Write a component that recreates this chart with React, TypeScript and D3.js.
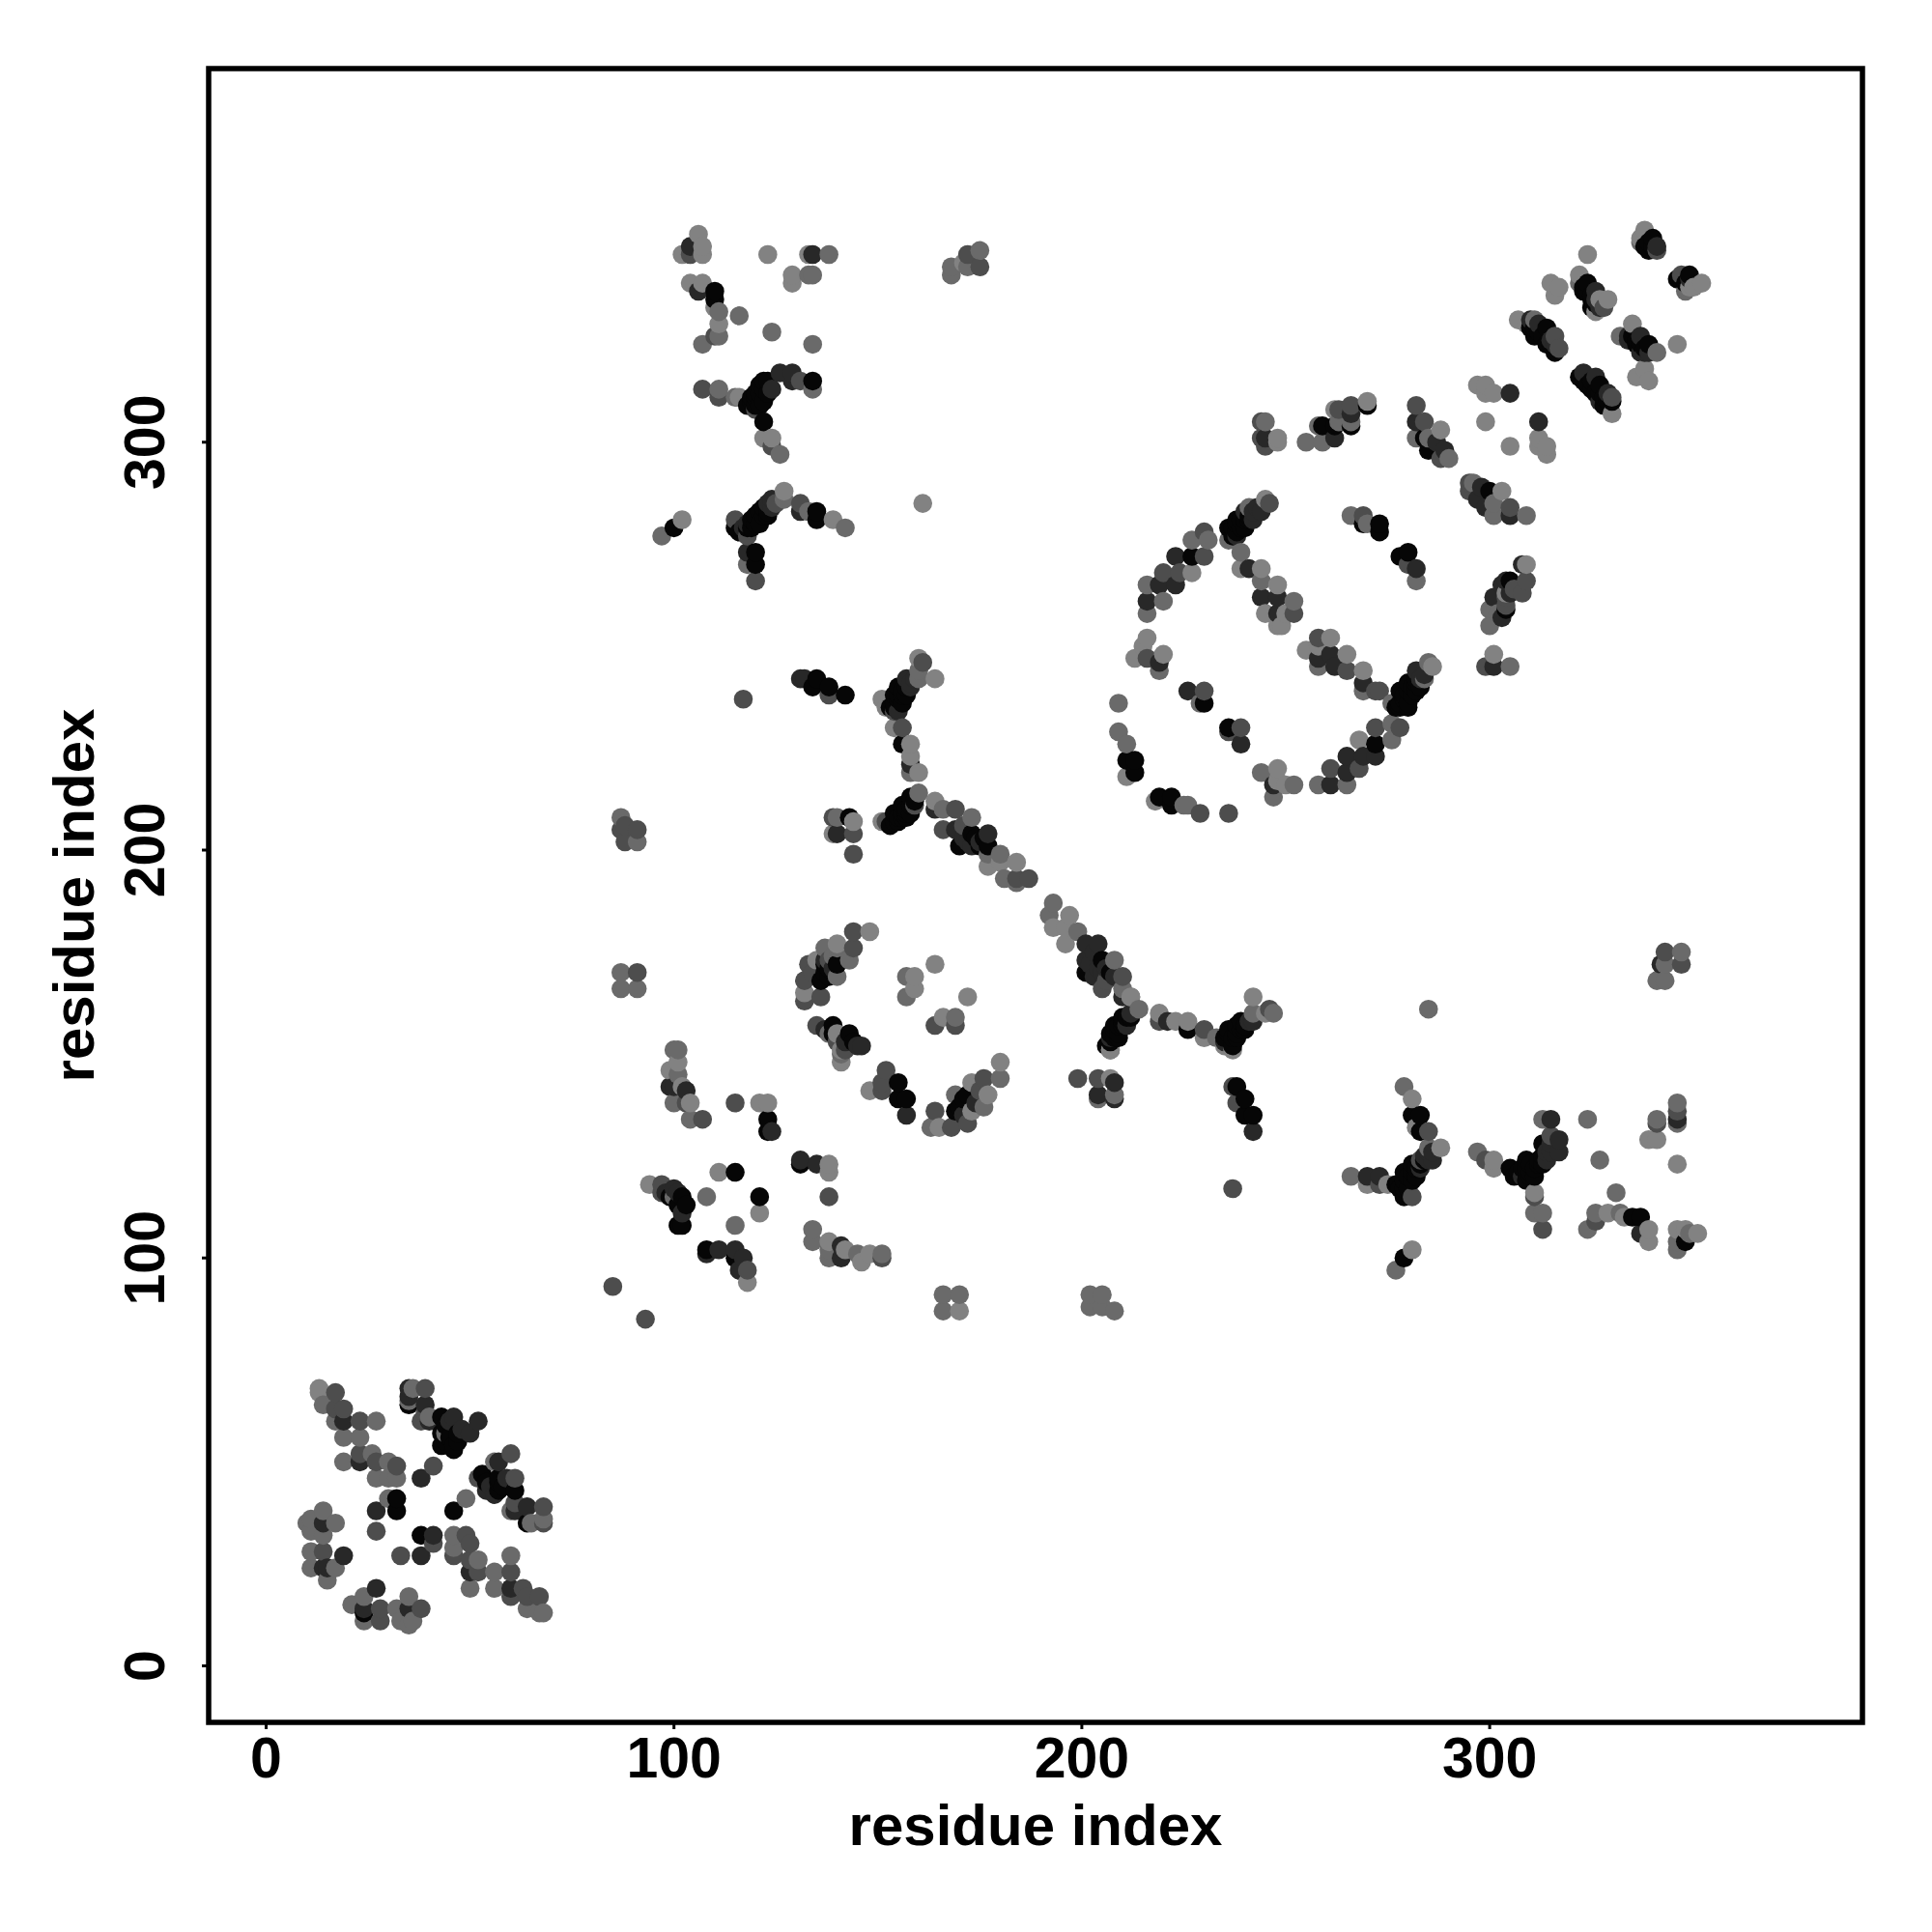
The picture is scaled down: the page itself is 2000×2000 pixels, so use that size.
import React from "react";
import * as d3 from "d3";

type Contact = [number, number, number];

const tickValues = [0, 100, 200, 300];
const axisTitle = "residue index";
// contact strength classes, 0 = strongest
const levels = [0, 1, 2, 3, 4];
const levelGrays = ["#060606", "#282828", "#4d4d4d", "#6a6a6a", "#828282"];

const nTerminalDomain: Contact[] = [
  [13,68,4],[13,67,4],[14,64,3],[17,67,2],[17,63,2],[19,63,2],[19,60,1],[17,60,3],[23,60,2],[27,60,3],[19,56,3],[23,56,3],[19,50,3],[23,52,2],[23,50,1],[26,52,3],[27,50,2],[27,46,3],[30,50,3],[32,49,2],[30,46,3],[32,46,3],
  [35,68,1],[36,68,3],[39,68,2],[35,65,3],[35,64,0],[39,64,1],[38,60,2],[40,61,3],[43,61,0],[46,61,1],[43,57,0],[47,57,0],[50,57,1],[52,60,1],[43,54,0],[44,57,3],[46,53,0],[46,54,0],[41,49,2],[38,46,1],
  [60,52,2],[57,50,1],[56,50,3],[53,47,0],[52,46,2],[54,43,1],[57,46,0],[57,43,0],[61,46,2],[61,43,0],[61,40,2],[61,38,1],[60,38,3],[64,39,1],[68,39,2],[65,35,3],[64,35,0],[68,36,3],[68,35,2],
  [49,41,3],[46,38,0],[32,41,0],[30,41,3],[32,38,0],[27,38,1],[27,33,2],[38,32,0],[41,32,1],[41,30,2],[38,27,1],[33,27,2],
  [46,32,3],[49,32,2],[46,29,3],[46,27,2],[50,30,2],[50,26,2],[52,26,3],[50,23,1],[52,23,2],[50,19,3],[56,23,3],[60,27,3],[60,23,2],[56,19,3],[60,19,1],[60,17,2],[63,19,2],[64,17,2],[67,17,2],[64,14,3],[67,13,3],[68,13,3],
  [14,38,3],[11,36,3],[10,35,3],[14,35,1],[17,35,3],[11,33,3],[14,32,3],[11,28,3],[14,28,2],[19,27,1],[11,24,3],[14,24,1],[15,24,1],[17,24,3],[15,21,3],
  [27,19,1],[24,17,3],[21,15,3],[24,14,1],[24,13,0],[28,14,2],[24,11,3],[28,11,2],[32,14,3],[35,17,3],[35,14,1],[38,14,2],[33,11,3],[35,10,3],[36,11,3],
  [44,59,0],[45,56,0],[47,55,0],[48,58,1],[44,55,0],[45,60,1],[57,45,0],[58,44,0],[55,44,1],[59,46,1],[56,42,1],[54,45,0],[35,66,1],[39,62,2],[40,60,1],
];

const lowerMiddle: Contact[] = [
  [101,151,3],[100,151,3],[101,148,4],[99,146,4],[101,145,3],[100,142,1],[99,142,1],[102,142,4],[103,141,1],[100,138,3],[104,138,4],[103,138,2],[104,134,3],[107,134,2],
  [115,138,2],[121,138,4],[123,138,4],[123,134,0],[123,131,0],[124,131,1],[131,124,1],[131,123,0],[135,123,1],[138,123,4],[138,121,4],[138,115,2],
  [111,121,4],[115,121,0],[108,115,3],[121,115,0],[121,111,4],[115,108,3],
  [94,118,4],[97,118,2],[97,116,2],[100,117,1],[99,115,0],[102,115,0],[100,115,3],[102,111,1],[101,108,0],[102,108,0],
  [98,116,1],[101,116,1],[101,113,0],[103,113,0],
  [108,102,0],[108,101,1],[111,102,1],[115,102,1],[115,100,0],[117,100,1],[116,97,1],[118,97,2],[118,94,4],
  [85,93,2],[93,85,2],
  [134,107,3],[134,104,3],[138,104,4],[138,102,3],[138,100,3],[141,103,1],[141,100,1],[142,102,4],[145,101,3],[148,101,4],[146,99,4],[151,101,3],[151,100,2],
  [166,91,3],[170,91,3],[166,87,3],[170,87,4],[164,157,2],[169,157,2],[166,159,4],[169,159,3],
  [135,157,2],[139,157,0],[138,155,3],[139,155,0],[140,155,4],[143,155,0],[141,151,4],[141,148,4],[142,151,2],[145,152,1],[146,152,1],
  [137,156,1],[140,153,2],[142,153,1],[144,153,0],[141,150,3],
  [152,146,2],[151,143,2],[148,141,4],[151,141,2],[155,143,0],[155,139,0],[157,139,0],[157,135,1],
  [180,148,4],[180,144,3],[176,144,2],[173,143,4],[177,140,4],[176,137,3],[172,140,0],[169,140,3],[169,136,0],[173,136,4],[164,136,2],[163,132,3],[165,132,4],[168,132,2],[172,133,2],
  [170,137,0],[171,139,0],[174,138,1],[171,135,1],[175,141,2],
  [87,208,3],[88,206,2],[87,205,2],[91,205,2],[88,202,2],[91,202,3],[87,170,3],[91,170,2],[87,166,3],[91,166,3],
];

const centralDiagonal: Contact[] = [
  [131,242,1],[132,242,1],[135,242,0],[134,240,0],[138,240,0],[138,238,2],[142,238,0],[117,237,2],
  [160,247,4],[161,246,2],[160,244,3],[164,242,4],[160,242,3],[157,242,1],[155,240,0],[158,240,1],[154,238,0],[156,238,0],[151,237,4],[154,236,0],[156,236,0],[152,235,4],[154,234,2],[156,230,2],[154,230,4],[156,226,0],[158,226,4],[158,223,4],[158,221,1],[158,219,3],[160,219,4],
  [155,237,0],[155,238,0],[156,239,0],[157,240,0],[157,238,0],[158,241,1],[159,242,1],[153,235,0],[154,235,0],[155,234,1],
  [160,214,3],[158,213,0],[156,211,0],[159,211,2],[154,209,0],[157,209,0],[154,207,0],[156,208,0],[151,207,4],[152,207,2],
  [155,208,0],[156,209,0],[157,210,0],[158,211,0],[159,212,0],[155,207,0],[157,208,0],[158,209,0],[153,206,0],
  [139,208,2],[140,208,3],[143,208,0],[144,207,4],[139,204,4],[140,204,1],[144,204,2],[144,199,2],
  [164,212,4],[164,210,1],[166,210,3],[169,210,2],[166,205,2],[169,205,1],[170,201,0],[173,208,3],[173,204,0],[177,204,1],[173,201,1],[177,201,0],[177,199,3],[180,199,3],[177,196,4],[180,197,4],[184,197,4],[181,193,3],[184,193,2],[184,192,3],[187,193,2],
  [171,203,1],[172,202,1],[174,203,0],[175,202,1],[176,203,0],[171,206,2],[175,201,0],
  [193,187,3],[192,184,3],[197,184,4],[193,181,4],[196,181,4],[199,180,3],[196,177,4],[201,177,1],[204,177,1],[201,173,1],[205,173,0],[208,173,3],[201,170,0],[205,170,1],[208,169,1],[210,169,2],[205,166,2],[210,166,3],[212,164,3],[214,161,3],[210,164,1],
  [202,172,1],[203,175,1],[204,171,1],[206,171,1],[207,170,0],[203,169,1],[206,168,2],
  [144,180,2],[148,180,4],[144,176,2],[140,177,4],[137,176,3],[140,176,3],[143,173,3],[140,172,0],[137,172,0],[133,172,2],[135,173,4],[136,168,0],[132,168,2],[140,169,3],[132,165,4],[136,164,2],[132,163,2],
  [137,170,0],[138,171,0],[138,169,0],[139,171,1],[137,173,1],[134,170,2],[138,173,2],[139,174,3],
  [157,169,3],[159,169,4],[159,166,4],[157,164,3],[164,172,4],[172,164,4],[161,285,4],
  [212,164,4],[212,159,0],[210,159,0],[208,157,0],[211,157,1],[207,155,0],[209,155,0],[207,151,3],[207,151,4],
  [208,156,0],[209,157,0],[210,157,0],[210,158,0],[211,159,0],[212,160,1],[208,154,0],[209,154,0],[207,153,0],[207,154,1],[206,152,0],
  [219,160,4],[219,158,2],[223,158,4],[221,158,1],[226,158,4],[226,156,0],[230,156,2],[230,154,4],[233,154,3],[235,154,0],[236,156,0],[235,152,4],[237,151,4],[238,154,0],[239,158,0],[240,156,0],[242,164,4],[242,160,3],[242,158,1],[246,161,2],[247,160,3],[245,160,4],
  [236,155,0],[237,154,0],[238,155,0],[238,157,0],[239,156,0],[240,157,0],[241,158,1],[237,152,0],[235,153,1],
  [199,144,2],[204,144,2],[207,144,4],[208,143,1],[204,140,1],[204,139,3],[208,140,3],[208,139,1],
  [237,142,2],[238,142,0],[238,138,2],[240,139,0],[240,135,0],[242,135,0],[242,131,1],[237,117,2],
  [202,91,3],[205,91,3],[202,88,3],[205,88,3],[208,87,3],
];

const upperRingDomain: Contact[] = [
  [246,285,2],[245,286,4],[244,283,1],[241,284,3],[240,283,1],[238,281,0],[241,281,0],[240,279,0],[236,279,0],[236,276,3],[238,278,0],
  [237,279,0],[238,280,0],[239,281,0],[239,279,0],[240,281,0],[241,282,0],[242,283,1],[243,284,1],[242,281,1],[237,277,0],[238,277,1],
  [230,278,2],[231,276,3],[227,276,3],[230,272,2],[227,272,0],[223,272,1],[227,268,4],[224,268,2],[220,268,2],[223,265,1],[219,265,1],[216,265,3],[220,261,3],[216,261,1],[216,258,3],
  [216,252,4],[215,250,4],[213,247,4],[216,247,2],[220,248,4],[219,246,1],[219,244,3],
  [226,239,1],[230,239,2],[229,236,3],[230,236,0],[236,230,0],[239,230,2],[236,229,2],[239,226,1],
  [209,236,3],[209,229,3],[211,226,3],[211,222,0],[213,222,0],[213,219,0],[211,218,4],
  [218,212,4],[219,213,0],[222,213,0],[222,211,0],[225,211,3],[226,211,3],[229,209,2],[236,209,2],
  [239,273,3],[239,269,4],[241,269,1],[244,269,4],[244,266,3],[248,265,4],[244,262,1],[248,262,1],[252,261,3],[245,258,4],[248,258,1],[250,258,4],[252,258,2],[248,255,4],[249,255,4],
  [258,252,2],[261,252,4],[255,249,4],[258,250,4],[258,247,1],[261,248,1],[265,248,4],[258,245,3],[262,245,1],[265,244,2],[269,244,4],[269,241,1],[269,239,3],[272,239,2],[273,239,2],
  [286,245,4],[285,246,3],[282,244,1],[284,242,3],[282,242,0],[280,241,0],[283,240,0],[278,239,0],[281,238,0],[278,236,0],[276,236,3],[280,236,0],
  [279,237,0],[279,238,0],[280,239,0],[281,240,0],[282,241,0],[283,242,1],[284,243,1],[282,239,0],[277,235,0],[278,235,0],[280,235,0],
  [276,231,3],[278,230,2],[276,227,3],[272,230,2],[268,227,4],[272,226,0],[272,223,1],[269,223,1],[265,223,1],[268,220,2],[261,220,2],[265,219,1],[261,216,1],[265,216,3],[258,216,3],
  [244,219,3],[248,220,4],[247,216,1],[248,217,4],[247,213,3],[250,216,4],[252,216,3],
  [266,282,3],[269,282,2],[269,280,0],[270,280,3],[273,280,0],[273,278,0],[278,272,0],[280,273,0],[280,270,2],[282,269,1],[282,266,3],
  [309,270,4],[308,270,1],[304,266,1],[305,266,0],[309,266,2],[308,263,2],[301,262,1],[304,263,4],[304,260,2],[300,259,3],[304,259,0],[300,255,3],
  [303,265,1],[304,262,2],[302,258,3],[303,257,1],[305,263,1],[306,264,2],
  [301,248,4],[299,245,2],[301,245,1],[305,245,3],
  [244,305,2],[245,305,3],[244,301,2],[245,301,1],[245,299,2],[248,301,4],[248,300,4],
  [255,300,3],[259,300,3],[258,304,3],[259,304,0],[262,301,1],[262,304,0],[263,305,3],[262,308,4],[263,308,2],[266,304,0],[266,305,3],[266,309,2],[266,307,1],[270,310,4],[270,309,0],
  [282,309,2],[282,305,1],[284,305,2],[282,301,3],[284,301,0],[285,301,3],[288,303,4],[287,300,1],[285,298,0],[289,298,1],[288,296,2],[290,296,3],
  [295,290,2],[296,290,3],[295,288,2],[298,289,1],[297,286,1],[300,288,0],[303,288,4],[301,285,3],[299,284,1],[301,282,3],[305,284,2],[305,282,1],[309,282,3],
];

const cTerminalHelices: Contact[] = [
  [338,352,4],[337,350,4],[337,349,3],[340,350,0],[339,347,0],[341,347,2],[346,340,0],[347,341,2],[349,341,0],[349,338,4],[350,338,4],[352,339,4],
  [338,348,0],[339,349,0],[340,348,0],[341,348,1],[347,340,0],[348,339,0],[349,340,1],[348,337,3],
  [324,346,4],[322,341,4],[322,339,3],[324,339,0],[323,337,0],[326,337,1],[326,335,1],[327,335,4],[329,335,4],[326,332,4],[325,333,0],[315,339,4],[317,338,4],[316,336,4],
  [323,338,0],[324,337,0],[325,336,0],[325,335,0],[326,334,0],[327,333,1],[328,333,2],
  [307,330,4],[310,330,1],[309,329,4],[311,330,3],[312,329,1],[311,326,0],[314,328,0],[316,326,2],[314,324,0],[316,322,0],[317,323,2],
  [310,328,0],[311,328,0],[312,327,0],[313,326,0],[315,324,0],[315,325,1],[316,324,1],
  [335,329,4],[332,326,3],[334,326,1],[337,326,1],[336,324,0],[339,324,0],[338,322,1],[341,322,3],[346,324,4],[336,316,4],[338,318,4],[339,315,4],
  [335,326,0],[336,325,0],[337,324,0],[338,323,0],[337,322,1],[339,322,1],[334,325,1],
  [323,317,1],[322,316,0],[326,316,1],[324,314,0],[327,314,0],[326,312,0],[329,312,1],[330,311,2],[328,309,0],[330,310,0],[330,307,4],
  [323,315,0],[325,315,0],[325,313,0],[327,312,0],[328,311,0],[329,310,0],[327,310,1],
  [297,314,4],[299,314,4],[299,312,4],[301,312,4],[305,312,1],[299,305,4],[312,305,1],[305,299,4],[312,301,4],[314,299,4],[312,299,4],[314,297,4],
];

const upperLeftBlock: Contact[] = [
  [106,351,4],[104,348,1],[107,348,4],[102,346,4],[104,346,2],[107,346,4],[104,339,4],[107,339,4],[106,337,1],[110,337,0],[110,335,0],[110,333,4],[111,332,3],[111,329,4],[110,326,2],[111,326,3],[107,324,3],[116,331,3],[123,346,4],[124,327,3],[134,324,3],
  [133,346,4],[134,346,1],[138,346,3],[129,341,4],[129,339,4],[133,341,3],[134,341,3],
  [107,313,2],[111,313,3],[111,311,2],[115,311,3],[116,311,4],[119,310,0],[120,308,2],[121,312,0],[123,315,0],[122,310,0],[124,313,1],[126,317,1],[129,317,1],[129,315,1],[131,315,2],[134,315,0],[134,313,3],[122,305,0],[122,301,4],[124,301,4],[124,299,2],[126,297,3],
  [118,309,0],[119,311,0],[120,311,0],[120,312,0],[121,314,0],[122,313,0],[122,315,0],[123,312,0],[120,309,0],[121,309,0],
  [127,288,4],[127,286,3],[124,286,1],[122,284,0],[124,284,1],[120,282,0],[123,282,0],[118,280,1],[121,280,0],[115,281,2],[115,279,0],[118,277,2],[118,273,1],[120,273,0],[118,270,3],[120,270,0],[120,266,2],
  [118,279,0],[119,281,0],[120,280,0],[121,283,0],[122,282,0],[123,285,1],[119,279,0],[123,283,0],[116,278,0],[117,279,1],[125,285,2],
  [131,285,2],[131,283,1],[133,283,3],[135,283,0],[135,281,0],[139,281,4],[142,279,3],[102,281,4],[100,279,0],[97,277,3],
  [175,347,3],[172,346,2],[175,343,2],[171,344,4],[168,343,3],[168,341,3],[172,343,3],
];

const lowerRightBlock: Contact[] = [
  [279,142,3],[281,139,4],[281,135,0],[283,135,0],[283,131,0],[282,132,4],[285,131,2],[285,127,3],[288,127,4],[286,124,1],[283,124,2],[281,123,0],[283,122,1],[279,121,0],[282,120,0],[279,119,0],[277,118,0],[281,115,2],[279,115,0],
  [280,120,0],[281,121,0],[282,122,0],[283,123,0],[284,125,1],[285,126,1],[284,124,0],[281,119,0],[278,117,0],[279,117,0],[280,117,0],[285,124,1],[286,126,1],
  [266,120,3],[270,120,1],[270,118,4],[273,120,1],[273,118,2],[275,118,4],[281,102,4],[279,100,0],[277,97,3],[285,161,3],
  [297,126,3],[299,124,2],[301,124,4],[301,122,4],[305,122,0],[309,122,0],[308,120,1],[312,124,0],[311,120,0],[314,124,1],[315,126,1],[317,126,1],[317,129,1],[315,130,2],[315,134,1],[313,134,3],[313,128,0],
  [306,120,0],[307,121,0],[308,122,0],[309,124,0],[310,123,0],[311,122,0],[312,123,0],[313,125,0],[314,126,1],[310,120,0],[309,119,0],[310,121,0],[313,123,0],[315,128,1],
  [311,116,4],[311,115,2],[311,111,3],[313,111,3],[313,107,2],
  [324,134,3],[327,124,3],[331,116,3],[326,111,3],[326,109,2],[329,111,4],[332,111,3],[333,110,4],[335,110,0],[337,110,0],[324,107,3],[337,106,1],[339,107,4],[339,104,4],
  [346,138,3],[346,136,2],[346,134,1],[346,133,3],[341,134,3],[341,133,2],[339,129,4],[341,129,4],[346,123,4],
  [346,107,4],[348,107,4],[349,106,3],[351,106,4],[348,104,0],[346,104,3],[346,102,3],
  [343,175,2],[347,175,3],[347,172,2],[343,172,3],[341,168,3],[343,168,3],[342,172,1],
];

const contacts: Contact[] = [
  ...nTerminalDomain, ...lowerMiddle, ...centralDiagonal, ...upperRingDomain,
  ...cTerminalHelices, ...upperLeftBlock, ...lowerRightBlock,
].sort((a, b) => d3.ascending(a[0], b[0]) || d3.ascending(a[1], b[1]));

const FONT = "'Liberation Sans', Arial, sans-serif";

export default function App() {
  const left = 216, right = 1928, top = 71, bottom = 1783;
  const x = d3.scaleLinear().domain([-14.09, 391.4]).range([left, right]);
  const y = d3.scaleLinear().domain([-13.86, 391.6]).range([bottom, top]);
  const gray = d3.scaleOrdinal<number, string>().domain(levels).range(levelGrays);
  return (
    <svg width={2000} height={2000} style={{ position: "absolute", left: 0, top: 0, background: "#fff" }}>
      {contacts.map((c, idx) => (
        <circle key={idx} cx={x(c[0])} cy={y(c[1])} r={9.8} fill={gray(c[2])} />
      ))}
      <rect x={left} y={top} width={right - left} height={bottom - top} fill="none" stroke="#000" strokeWidth={5.5} />
      {tickValues.map((t) => (
        <g key={t}>
          <line x1={x(t)} x2={x(t)} y1={bottom} y2={bottom + 7} stroke="#000" strokeWidth={3} />
          <text x={x(t)} y={1840} textAnchor="middle" fontFamily={FONT} fontWeight="bold" fontSize={59}>{t}</text>
          <line x1={left - 7} x2={left} y1={y(t)} y2={y(t)} stroke="#000" strokeWidth={3} />
          <text transform={`translate(170,${y(t)}) rotate(-90)`} textAnchor="middle" fontFamily={FONT} fontWeight="bold" fontSize={59}>{t}</text>
        </g>
      ))}
      <text x={(left + right) / 2} y={1910} textAnchor="middle" fontFamily={FONT} fontWeight="bold" fontSize={60}>{axisTitle}</text>
      <text transform={`translate(97,${(top + bottom) / 2}) rotate(-90)`} textAnchor="middle" fontFamily={FONT} fontWeight="bold" fontSize={60}>{axisTitle}</text>
    </svg>
  );
}
